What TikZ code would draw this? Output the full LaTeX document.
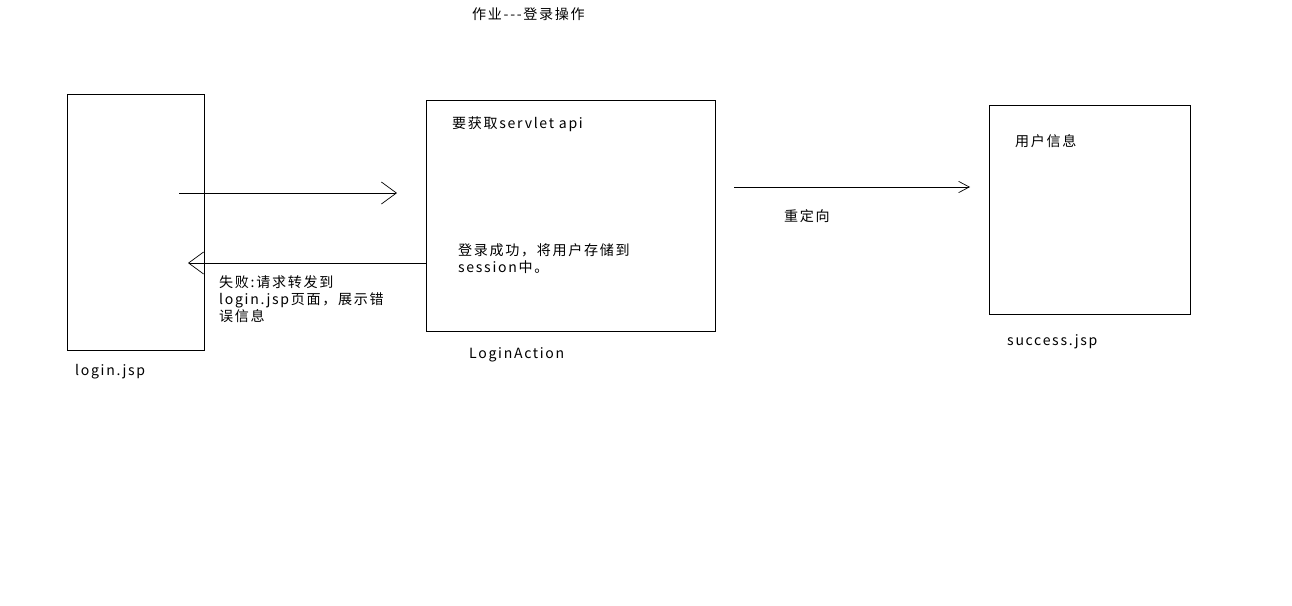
\documentclass[tikz,border=0pt]{standalone}
\usepackage{fontspec}
\setmainfont[LetterSpace=12]{Noto Sans CJK SC}
\usetikzlibrary{arrows.meta,positioning}

\begin{document}
\begin{tikzpicture}[
    x=0.03cm,
    y=-0.03cm,
    box/.style={draw, line width=0.8pt, inner sep=0pt},
    txt/.style={font=\fontsize{12}{14.5}\selectfont, inner sep=0pt, align=left},
    flow/.style={line width=0.8pt, -{Straight Barb[length=4.5mm,width=6.6mm,line width=0.6pt]}},
    flowsmall/.style={line width=0.8pt, -{Straight Barb[length=3.2mm,width=3.4mm,line width=0.6pt]}}
]
\useasboundingbox (0,0) rectangle (1292,605);

\node[txt, anchor=west] (title) at (472,14) {作业-{}-{}-登录操作};

\node[box, minimum width=4.11cm, minimum height=7.68cm] (login) at (135.5,222) {};
\node[box, minimum width=8.67cm, minimum height=6.93cm] (action) at (570.5,215.5) {};
\node[box, minimum width=6.03cm, minimum height=6.27cm] (success) at (1089.5,209.5) {};

\node[txt, anchor=west] (loginlbl) at (75,372) {login.jsp};
\node[txt, anchor=west] (actionlbl) at (469,355) {LoginAction};
\node[txt, anchor=west] (successlbl) at (1007,342) {success.jsp};

\node[txt, anchor=west] (api) at (452,124) {要获取servlet api};
\node[txt, anchor=north west] (ok) at (458,243) {登录成功，将用户存储到\\session中。};
\node[txt, anchor=west] (userinfo) at (1015,141) {用户信息};
\node[txt, anchor=north west] (fail) at (219,275) {失败:请求转发到\\login.jsp页面，展示错\\误信息};
\node[txt, anchor=west] (redir) at (784,216) {重定向};

\coordinate (req) at (179,193);
\coordinate (reqend) at (397,193);
\coordinate (back) at (426,263);
\coordinate (backend) at (188,263);
\coordinate (go) at (734,187);
\coordinate (goend) at (970,187);

\draw[flow] (req) -- (reqend);
\draw[flow] (back) -- (backend);
\draw[flowsmall] (go) -- (goend);
\end{tikzpicture}
\end{document}
